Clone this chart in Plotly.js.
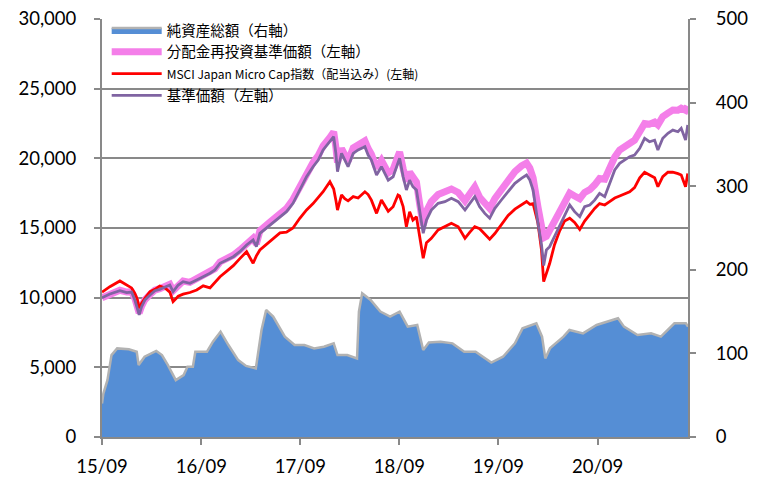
<!DOCTYPE html>
<html>
<head>
<meta charset="utf-8">
<script src="https://cdn.plot.ly/plotly-3.0.1.min.js"></script>
<style>html,body{margin:0;padding:0;background:#fff;}#chart{width:765px;height:480px;}</style>
</head>
<body>
<div id="chart"></div>
<script>
// Shared date grid for the three price series
const dates = [
'2015-09-28','2015-10-27','2015-12-03','2015-12-28','2016-01-15','2016-01-27','2016-02-05','2016-02-12','2016-02-21','2016-03-04',
'2016-03-23','2016-04-10','2016-04-28','2016-05-17','2016-06-04','2016-06-16','2016-07-05','2016-07-23','2016-08-17','2016-09-11',
'2016-10-05','2016-10-30','2016-11-17','2016-12-06','2016-12-31','2017-01-24','2017-02-17','2017-03-14','2017-04-07','2017-04-19',
'2017-05-02','2017-06-08','2017-07-15','2017-08-08','2017-09-01','2017-09-26','2017-10-21','2017-11-14','2017-12-03','2017-12-21',
'2018-01-15','2018-01-29','2018-02-06','2018-02-12','2018-02-27','2018-03-11','2018-03-23','2018-04-11','2018-04-29','2018-05-24',
'2018-06-05','2018-06-17','2018-07-06','2018-07-24','2018-08-18','2018-09-05','2018-09-23','2018-09-29','2018-10-12','2018-10-24',
'2018-11-05','2018-11-17','2018-11-30','2018-12-12','2018-12-25','2019-01-06','2019-01-24','2019-02-18','2019-03-15','2019-04-08',
'2019-05-03','2019-05-28','2019-06-15','2019-07-03','2019-07-21','2019-08-09','2019-08-27','2019-09-15','2019-10-09','2019-11-03',
'2019-11-28','2019-12-22','2020-01-10','2020-01-22','2020-02-03','2020-02-21','2020-03-05','2020-03-13','2020-03-23','2020-04-04',
'2020-04-22','2020-05-11','2020-05-29','2020-06-17','2020-07-05','2020-07-24','2020-08-11','2020-08-30','2020-09-17','2020-10-05',
'2020-10-24','2020-11-11','2020-11-30','2020-12-18','2021-01-05','2021-01-24','2021-02-11','2021-03-02','2021-03-20','2021-04-07',
'2021-04-26','2021-05-08','2021-05-26','2021-06-14','2021-07-02','2021-07-21','2021-08-02','2021-08-18','2021-08-26'
];

// 基準価額（左軸）
const navValues = [
10000,10260,10500,10360,10400,9830,9240,8760,9350,9830,
10190,10500,10600,10790,10910,10430,10910,11150,11030,11270,
11500,11750,11990,12470,12700,12940,13300,13780,14140,13660,
14620,15220,15810,16170,16770,17730,18680,19400,19880,20600,
21190,21550,20360,19040,20360,19880,19400,20360,20600,20830,
20240,19880,18800,19400,18440,18680,19640,20000,18680,17730,
18440,17960,17730,16050,14620,15570,16290,16770,16890,17130,
16890,16290,16770,17250,16530,16050,15700,16410,17010,17600,
18210,18560,18800,18440,17730,15340,13800,12300,13420,13660,
14380,15090,15810,16650,16170,15810,16530,16650,17000,17490,
17250,18210,19160,19640,19880,20120,20240,20720,21440,21190,
21300,20600,21440,21800,22030,21910,22150,21320,22390
];

// 分配金再投資基準価額（左軸）
const reinvValues = [
10000,10270,10530,10400,10420,9950,9400,8900,9400,9850,
10230,10540,10650,10840,10960,10500,10960,11200,11100,11340,
11580,11840,12080,12560,12800,13050,13420,13900,14270,13850,
14800,15420,16020,16400,17050,18000,18950,19700,20200,20900,
21500,21900,20800,19700,20700,20250,19800,20750,21000,21250,
20700,20300,19300,19850,18950,19200,20150,20450,19250,18350,
19000,18550,18300,16700,15200,16200,16900,17400,17550,17800,
17550,16950,17450,17950,17200,16750,16400,17100,17750,18400,
19050,19450,19650,19300,18600,16500,15300,14300,14400,14860,
15500,16200,16900,17500,17300,17100,17550,17750,18100,18550,
18500,19400,20100,20600,20850,21080,21300,21910,22500,22450,
22600,22400,22990,23250,23470,23450,23600,23450,23750
];

// MSCI Japan Micro Cap指数（配当込み）(左軸)
const indexValues = [
10400,10790,11200,10910,10700,10300,9900,9240,9600,9950,
10430,10600,10840,10700,10400,9710,10100,10250,10370,10550,
10850,10700,11100,11500,11900,12300,12800,13300,12470,13000,
13420,14020,14650,14700,15000,15700,16300,16750,17150,17600,
18320,17800,17000,16290,17370,17100,16950,17250,17150,17600,
17400,17000,16050,17010,16200,16530,17370,17300,16530,15090,
16170,15570,15800,14380,12830,13950,14260,14860,15090,15340,
15090,14260,14700,15100,14950,14600,14200,14600,15250,15900,
16350,16650,16900,16700,16750,15340,13420,11150,11700,12450,
13800,14800,15500,15700,15400,14900,15500,16000,16400,16750,
16650,16890,17150,17300,17450,17600,17900,18600,19000,18800,
18600,17960,18680,19000,19000,18900,18800,17960,18920
];

// 純資産総額（右軸）
const aumDates = [
'2015-09-28','2015-10-03','2015-10-18','2015-11-02','2015-11-23','2016-01-05','2016-02-03','2016-02-10','2016-03-03','2016-04-15',
'2016-05-06','2016-05-28','2016-06-26','2016-07-25','2016-08-08','2016-08-28','2016-09-06','2016-10-19','2016-11-10','2016-12-08',
'2017-01-06','2017-02-11','2017-03-12','2017-04-17','2017-05-08','2017-05-25','2017-06-20','2017-08-02','2017-09-07','2017-10-13',
'2017-11-18','2017-12-24','2018-01-29','2018-02-12','2018-03-20','2018-04-25','2018-05-02','2018-05-14','2018-06-14','2018-07-20',
'2018-08-25','2018-09-29','2018-10-29','2018-12-03','2018-12-25','2019-01-15','2019-02-27','2019-04-12','2019-05-25','2019-07-06',
'2019-09-02','2019-10-15','2019-11-28','2019-12-26','2020-02-15','2020-03-07','2020-03-19','2020-04-05','2020-05-25','2020-06-16',
'2020-08-05','2020-09-24','2020-12-12','2021-01-03','2021-02-22','2021-04-13','2021-05-19','2021-07-08','2021-08-19','2021-08-27'
];
const aumValues = [
40,52,68,98,106,105,102,86,96,103,
98,86,68,74,84,84,102,102,114,126,
110,92,85,82,128,152,144,120,110,110,
106,108,112,98,98,94,150,172,164,150,
144,150,132,134,104,113,114,112,102,102,
89,96,112,130,136,120,94,106,120,128,
124,134,142,132,122,124,120,136,136,132
];

const seriesNames = [
'純資産総額（右軸）',
'分配金再投資基準価額（左軸）',
'<span style="font-size:12px">MSCI Japan Micro Cap指数（配当込み）(左軸)</span>',
'基準価額（左軸）'
];

const xTickVals = ['2015-09-28','2016-09-28','2017-09-28','2018-09-28','2019-09-28','2020-09-28'];
const xTickText = ['15/09','16/09','17/09','18/09','19/09','20/09'];
const yTickVals = [0,5000,10000,15000,20000,25000,30000];
const yTickText = ['0','5,000','10,000','15,000','20,000','25,000','30,000'];
const y2TickVals = [0,100,200,300,400,500];
const y2TickText = ['0','100','200','300','400','500'];

const axisGray = '#898989';

const traces = [
  {x: aumDates, y: aumValues, yaxis: 'y2', type: 'scatter', mode: 'lines', fill: 'tozeroy',
   fillcolor: '#558ED5', line: {color: '#B2B2B2', width: 2.5}, name: seriesNames[0], legendgroup: 'a'},
  {x: dates, y: reinvValues, type: 'scatter', mode: 'lines',
   line: {color: '#F47FE9', width: 7}, name: seriesNames[1], legendgroup: 'b'},
  {x: dates, y: indexValues, type: 'scatter', mode: 'lines',
   line: {color: '#FF0000', width: 2.8}, name: seriesNames[2], legendgroup: 'c'},
  {x: dates, y: navValues, type: 'scatter', mode: 'lines',
   line: {color: '#8064A2', width: 2.8}, name: seriesNames[3], legendgroup: 'd'}
];

const layout = {
  width: 765, height: 480,
  margin: {l: 102, r: 76.5, t: 19, b: 43, pad: 0},
  paper_bgcolor: '#ffffff', plot_bgcolor: '#ffffff',
  font: {family: 'Lato, "Noto Sans CJK JP", sans-serif', size: 18.5, color: '#000'},
  showlegend: true,
  legend: {x: 0.008, y: 1.012, xanchor: 'left', yanchor: 'top', bgcolor: 'rgba(0,0,0,0)',
           font: {size: 14.5, color: '#000', family: '"Noto Sans CJK JP", Lato, sans-serif'},
           itemwidth: 50, tracegroupgap: 3, traceorder: 'normal'},
  shapes: [{type: 'rect', xref: 'paper', yref: 'paper', x0: 0.006, x1: 0.56, y0: 0.79, y1: 0.992,
            fillcolor: '#ffffff', line: {width: 0}, layer: 'between'}],
  xaxis: {type: 'date', range: ['2015-09-28', '2021-08-27'], tickmode: 'array',
          tickvals: xTickVals, ticktext: xTickText, ticks: 'outside', ticklen: 6,
          tickwidth: 2, tickcolor: axisGray, showline: true, linecolor: axisGray, linewidth: 2,
          showgrid: false, zeroline: false, ticklabelstandoff: 6},
  yaxis: {range: [0, 30000], tickmode: 'array', tickvals: yTickVals, ticktext: yTickText,
          ticks: 'outside', ticklen: 6, tickwidth: 2, tickcolor: axisGray,
          showline: true, linecolor: axisGray, linewidth: 2,
          showgrid: true, gridcolor: axisGray, gridwidth: 2, zeroline: false, ticklabelstandoff: 14},
  yaxis2: {range: [0, 500], overlaying: 'y', side: 'right', tickmode: 'array',
           tickvals: y2TickVals, ticktext: y2TickText,
           ticks: 'outside', ticklen: 6, tickwidth: 2, tickcolor: axisGray,
           showline: true, linecolor: axisGray, linewidth: 2,
           showgrid: false, zeroline: false, ticklabelstandoff: 16}
};

Plotly.newPlot('chart', traces, layout, {displayModeBar: false, staticPlot: true});
</script>
</body>
</html>
